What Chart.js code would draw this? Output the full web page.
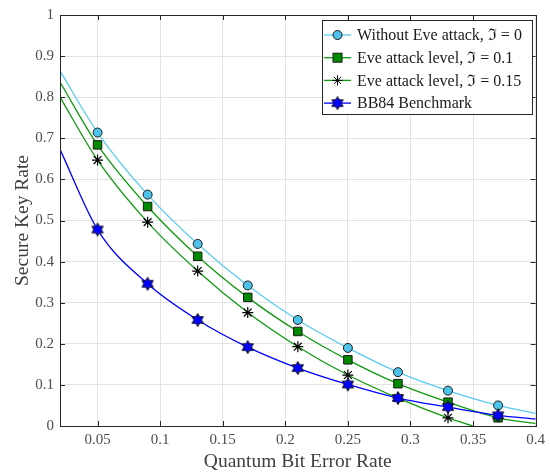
<!DOCTYPE html>
<html>
<head>
<meta charset="utf-8">
<script src="https://cdn.jsdelivr.net/npm/chart.js@4"></script>
<style>
  html, body { margin: 0; padding: 0; background: #fff; }
  #wrap { width: 550px; height: 474px; }
</style>
</head>
<body>
<div id="wrap"><canvas id="skrChart" width="550" height="474"></canvas></div>
<script>
"use strict";

// x positions where the curves were sampled (ends carry no marker)
const qber = [0.02, 0.05, 0.09, 0.13, 0.17, 0.21, 0.25, 0.29, 0.33, 0.37, 0.4];
const qberEve15 = [0.02, 0.05, 0.09, 0.13, 0.17, 0.21, 0.25, 0.29, 0.33, 0.35];

// secure key rate
const noEve = [0.864, 0.714, 0.563, 0.443, 0.342, 0.258, 0.19, 0.131, 0.086, 0.05, 0.031];
const eve10 = [0.837, 0.684, 0.534, 0.413, 0.313, 0.23, 0.161, 0.103, 0.058, 0.02, 0.006];
const eve15 = [0.8, 0.647, 0.496, 0.377, 0.276, 0.193, 0.124, 0.068, 0.02, 0];
const bb84 = [0.673, 0.478, 0.346, 0.258, 0.192, 0.141, 0.101, 0.068, 0.046, 0.026, 0.017];

const xTicks = [0.05, 0.1, 0.15, 0.2, 0.25, 0.3, 0.35, 0.4];
const yTicks = [0, 0.1, 0.2, 0.3, 0.4, 0.5, 0.6, 0.7, 0.8, 0.9, 1];

const legendLabels = [
  "Without Eve attack, \u2111 = 0",
  "Eve attack level, \u2111 = 0.1",
  "Eve attack level, \u2111 = 0.15",
  "BB84 Benchmark"
];

const SERIF = "'Liberation Serif', 'Times New Roman', 'DejaVu Serif', serif";

// draw a six pointed star (hexagram) path
function hexPath(ctx, cx, cy, r) {
  const ri = r / Math.sqrt(3);
  ctx.beginPath();
  for (let i = 0; i < 12; i++) {
    const a = -Math.PI / 2 + i * Math.PI / 6;
    const rr = i % 2 === 0 ? r : ri;
    const px = cx + rr * Math.cos(a), py = cy + rr * Math.sin(a);
    if (i === 0) ctx.moveTo(px, py); else ctx.lineTo(px, py);
  }
  ctx.closePath();
}

function makeHexagram(r) {
  const c = document.createElement("canvas");
  const s = Math.ceil(r * 2 + 3);
  c.width = s; c.height = s;
  const g = c.getContext("2d");
  hexPath(g, s / 2, s / 2, r);
  g.fillStyle = "#0000ff";
  g.fill();
  g.lineWidth = 1;
  g.strokeStyle = "#111";
  g.stroke();
  return c;
}
const hexImg = makeHexagram(6.5);

function radii(n, r) {
  return Array.from({ length: n }, (_, i) => (i === 0 || i === n - 1 ? 0 : r));
}
function toPoints(xs, ys) {
  return xs.map((x, i) => ({ x: x, y: ys[i] }));
}

const styles = [
  { line: "#5ccdf0", fill: "#4ec3ea", edge: "#1a1a1a", shape: "circle" },
  { line: "#119a11", fill: "#008a00", edge: "#1a1a1a", shape: "rect" },
  { line: "#119a11", fill: "#000000", edge: "#000000", shape: "star" },
  { line: "#0000ff", fill: "#0000ff", edge: "#111111", shape: "hex" }
];

// inward tick marks, full box and the legend
const matlabFrame = {
  id: "matlabFrame",
  afterDraw(chart) {
    const ctx = chart.ctx;
    const a = chart.chartArea;
    const xs = chart.scales.x, ys = chart.scales.y;
    ctx.save();
    ctx.strokeStyle = "#262626";
    ctx.lineWidth = 1;
    ctx.beginPath();
    xTicks.forEach(v => {
      const px = Math.round(xs.getPixelForValue(v)) + 0.5;
      ctx.moveTo(px, a.bottom); ctx.lineTo(px, a.bottom - 5);
      ctx.moveTo(px, a.top); ctx.lineTo(px, a.top + 5);
    });
    yTicks.forEach(v => {
      const py = Math.round(ys.getPixelForValue(v)) + 0.5;
      ctx.moveTo(a.left, py); ctx.lineTo(a.left + 5, py);
      ctx.moveTo(a.right, py); ctx.lineTo(a.right - 5, py);
    });
    ctx.stroke();
    ctx.strokeRect(Math.round(a.left) + 0.5, Math.round(a.top) + 0.5,
      Math.round(a.right - a.left), Math.round(a.bottom - a.top));

    // legend box
    const bx = 322, by = 20, bw = 210, bh = 94;
    ctx.fillStyle = "#fff";
    ctx.fillRect(bx, by, bw, bh);
    ctx.strokeStyle = "#262626";
    ctx.strokeRect(bx + 0.5, by + 0.5, bw, bh);
    ctx.font = "16px " + SERIF;
    ctx.textBaseline = "middle";
    legendLabels.forEach((label, i) => {
      const st = styles[i];
      const cy = 35 + i * 22.7;
      ctx.strokeStyle = st.line;
      ctx.lineWidth = 1.3;
      ctx.beginPath();
      ctx.moveTo(324, cy); ctx.lineTo(351, cy);
      ctx.stroke();
      drawMarker(ctx, st, 337.5, cy);
      ctx.fillStyle = "#1a1a1a";
      ctx.fillText(label, 357, cy + 1);
    });
    ctx.restore();
  }
};

function drawMarker(ctx, st, x, y) {
  ctx.save();
  ctx.lineWidth = 1;
  ctx.fillStyle = st.fill;
  ctx.strokeStyle = st.edge;
  if (st.shape === "circle") {
    ctx.beginPath(); ctx.arc(x, y, 4.5, 0, Math.PI * 2); ctx.fill(); ctx.stroke();
  } else if (st.shape === "rect") {
    ctx.fillRect(x - 4.5, y - 4.5, 9, 9); ctx.strokeRect(x - 4.5, y - 4.5, 9, 9);
  } else if (st.shape === "star") {
    ctx.beginPath();
    for (let k = 0; k < 4; k++) {
      const ang = k * Math.PI / 4;
      ctx.moveTo(x - 5 * Math.cos(ang), y - 5 * Math.sin(ang));
      ctx.lineTo(x + 5 * Math.cos(ang), y + 5 * Math.sin(ang));
    }
    ctx.stroke();
  } else {
    ctx.drawImage(hexImg, x - hexImg.width / 2, y - hexImg.height / 2);
  }
  ctx.restore();
}

const ctx = document.getElementById("skrChart").getContext("2d");
new Chart(ctx, {
  type: "line",
  data: {
    datasets: [
      {
        data: toPoints(qber, noEve), borderColor: styles[0].line, borderWidth: 1.3,
        pointStyle: "circle", pointRadius: radii(qber.length, 4.5),
        pointBackgroundColor: styles[0].fill, pointBorderColor: styles[0].edge, pointBorderWidth: 1,
        order: 3
      },
      {
        data: toPoints(qber, eve10), borderColor: styles[1].line, borderWidth: 1.3,
        pointStyle: "rect", pointRadius: radii(qber.length, 6),
        pointBackgroundColor: styles[1].fill, pointBorderColor: styles[1].edge, pointBorderWidth: 1,
        order: 2
      },
      {
        data: toPoints(qberEve15, eve15), borderColor: styles[2].line, borderWidth: 1.3,
        pointStyle: "star", pointRadius: radii(qberEve15.length, 5.5),
        pointBackgroundColor: "#000", pointBorderColor: "#000", pointBorderWidth: 1.2,
        order: 1
      },
      {
        data: toPoints(qber, bb84), borderColor: styles[3].line, borderWidth: 1.3,
        pointStyle: hexImg, pointRadius: radii(qber.length, 6),
        order: 0
      }
    ]
  },
  options: {
    responsive: false,
    animation: false,
    layout: { padding: { top: 13, right: 13, left: 0, bottom: 0 } },
    plugins: { legend: { display: false }, tooltip: { enabled: false } },
    elements: { line: { cubicInterpolationMode: "monotone" } },
    scales: {
      x: {
        type: "linear", min: 0.02, max: 0.4,
        afterBuildTicks: axis => { axis.ticks = xTicks.map(v => ({ value: v })); },
        afterFit: axis => { axis.height = 48; },
        ticks: {
          font: { family: SERIF, size: 15 }, color: "#4d4d4d", padding: 5,
          maxRotation: 0, autoSkip: false,
          callback: v => String(+v.toFixed(2))
        },
        grid: { color: "#e3e3e3", drawTicks: false },
        border: { display: false },
        title: {
          display: true, text: "Quantum Bit Error Rate",
          font: { family: SERIF, size: 19.5 }, color: "#404040", padding: { top: 2, bottom: 0 }
        }
      },
      y: {
        type: "linear", min: 0, max: 1,
        afterBuildTicks: axis => { axis.ticks = yTicks.map(v => ({ value: v })); },
        afterFit: axis => { axis.width = 60; },
        ticks: {
          font: { family: SERIF, size: 15 }, color: "#4d4d4d", padding: 6,
          callback: v => String(+v.toFixed(2))
        },
        grid: { color: "#e3e3e3", drawTicks: false },
        border: { display: false },
        title: {
          display: true, text: "Secure Key Rate",
          font: { family: SERIF, size: 19.5 }, color: "#404040", padding: { top: 11, bottom: 2 }
        }
      }
    }
  },
  plugins: [matlabFrame]
});
</script>
</body>
</html>
